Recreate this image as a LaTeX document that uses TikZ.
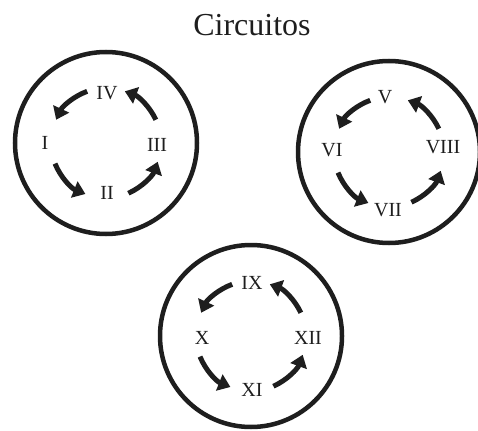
\documentclass[tikz,border=0pt]{standalone}
\usepackage{fontspec}
\setmainfont{Liberation Serif}
\usetikzlibrary{arrows.meta,calc}
\definecolor{ink}{HTML}{1E1E1E}
\tikzset{
  x=1pt,y=-1pt,
  ring/.style={draw=ink,line width=4.5pt},
  lbl/.style={text=ink,font=\fontsize{20}{23}\selectfont,inner sep=0pt},
  arr/.style={draw=ink,line width=5pt,-{Triangle[length=12pt,width=17pt]}},
}
% #1 name, #2 cx, #3 cy, #4 arrow radius
\newcommand{\circuit}[4]{%
  \coordinate (#1c) at (#2,#3);
  \draw[ring] (#1c) circle[radius=91pt];
  \draw[arr] ($(#1c)+(-110:#4)$) arc[start angle=-110,end angle=-155,radius=#4];
  \draw[arr] ($(#1c)+(-202:#4)$) arc[start angle=-202,end angle=-248,radius=#4];
  \draw[arr] ($(#1c)+(-294:#4)$) arc[start angle=-294,end angle=-340,radius=#4];
  \draw[arr] ($(#1c)+(-25:#4)$) arc[start angle=-25,end angle=-70,radius=#4];
}
\begin{document}
\begin{tikzpicture}
\useasboundingbox (0,0) rectangle (478,430);
\node[anchor=base,text=ink,font=\fontsize{32}{36}\selectfont,inner sep=0pt] (title) at (252,36) {Circuitos};
% circuit 1
\circuit{a}{106}{143}{55}
\node[lbl] (IV) at (107,93) {IV};
\node[lbl] (I) at (45,143) {I};
\node[lbl] (II) at (107,193) {II};
\node[lbl] (III) at (157,145) {III};
% circuit 2
\circuit{b}{389}{152}{55}
\node[lbl] (V) at (385,97) {V};
\node[lbl] (VI) at (332,150) {VI};
\node[lbl] (VII) at (388,210) {VII};
\node[lbl] (VIII) at (443,147) {VIII};
% circuit 3
\circuit{c}{251}{336}{55}
\node[lbl] (IX) at (252,283) {IX};
\node[lbl] (X) at (202,338) {X};
\node[lbl] (XI) at (252,390) {XI};
\node[lbl] (XII) at (308,338) {XII};
\end{tikzpicture}
\end{document}
